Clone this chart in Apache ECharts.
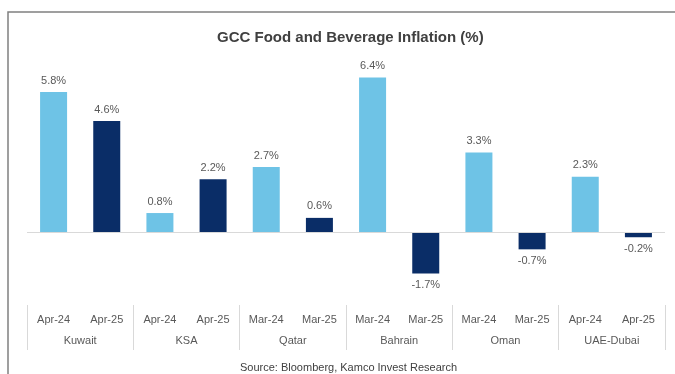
<!DOCTYPE html>
<html>
<head>
<meta charset="utf-8">
<script src="https://cdn.jsdelivr.net/npm/echarts@6/dist/echarts.min.js"></script>
<style>html,body{margin:0;padding:0;background:#fff;}#c{width:675px;height:374px;}</style>
</head>
<body>
<div id="c"></div>
<script>
var months = ['Apr-24','Apr-25','Apr-24','Apr-25','Mar-24','Mar-25','Mar-24','Mar-25','Mar-24','Mar-25','Apr-24','Apr-25'];
var groups = ['Kuwait','KSA','Qatar','Bahrain','Oman','UAE-Dubai'];
var values = [5.8, 4.6, 0.8, 2.2, 2.7, 0.6, 6.4, -1.7, 3.3, -0.7, 2.3, -0.2];
var colors = ['#6EC3E6', '#0A2D67'];

var chart = echarts.init(document.getElementById('c'), null, {renderer:'canvas'});
var font = 'Liberation Sans, Arial, sans-serif';
chart.setOption({
  animation: false,
  textStyle: {fontFamily: font},
  title: {
    text: 'GCC Food and Beverage Inflation (%)',
    left: 212, top: 25,
    textStyle: {fontFamily: font, fontSize: 15, fontWeight: 'bold', color: '#404040'}
  },
  graphic: [
    {type:'polyline', shape:{points:[[8,374],[8,12],[675,12]]}, style:{stroke:'#808080', lineWidth:1.5, fill:null}},
    {type:'text', left:240, top:362, style:{text:'Source: Bloomberg, Kamco Invest Research', font:'11px ' + font, fill:'#404040'}}
  ],
  grid: {left: 27, right: 10, top: 63, bottom: 69},
  xAxis: [
    {type:'category', data: months, position:'bottom',
     axisLine:{show:false}, axisTick:{show:false},
     axisLabel:{color:'#595959', fontSize:11, margin:9, interval:0}},
    {type:'category', data: groups, position:'bottom',
     axisLine:{show:false},
     axisTick:{show:true, length:45, lineStyle:{color:'#d9d9d9'}},
     axisLabel:{color:'#595959', fontSize:11, margin:30, interval:0}}
  ],
  yAxis: {type:'value', min:-3, max:7, show:false, splitLine:{show:false}},
  series: [{
    type:'bar', xAxisIndex:0, barWidth:27,
    data: values.map(function(v){ return {value:v, label:{position: v<0?'bottom':'top'}}; }),
    itemStyle:{color:function(p){ return colors[p.dataIndex % 2]; }},
    label:{show:true, distance:6, color:'#595959', fontSize:11,
      formatter:function(p){ return p.value.toFixed(1) + '%'; }},
    markLine:{silent:true, symbol:'none', label:{show:false},
      lineStyle:{color:'#d9d9d9', width:1, type:'solid'},
      data:[{yAxis:0}]}
  }]
});
</script>
</body>
</html>
